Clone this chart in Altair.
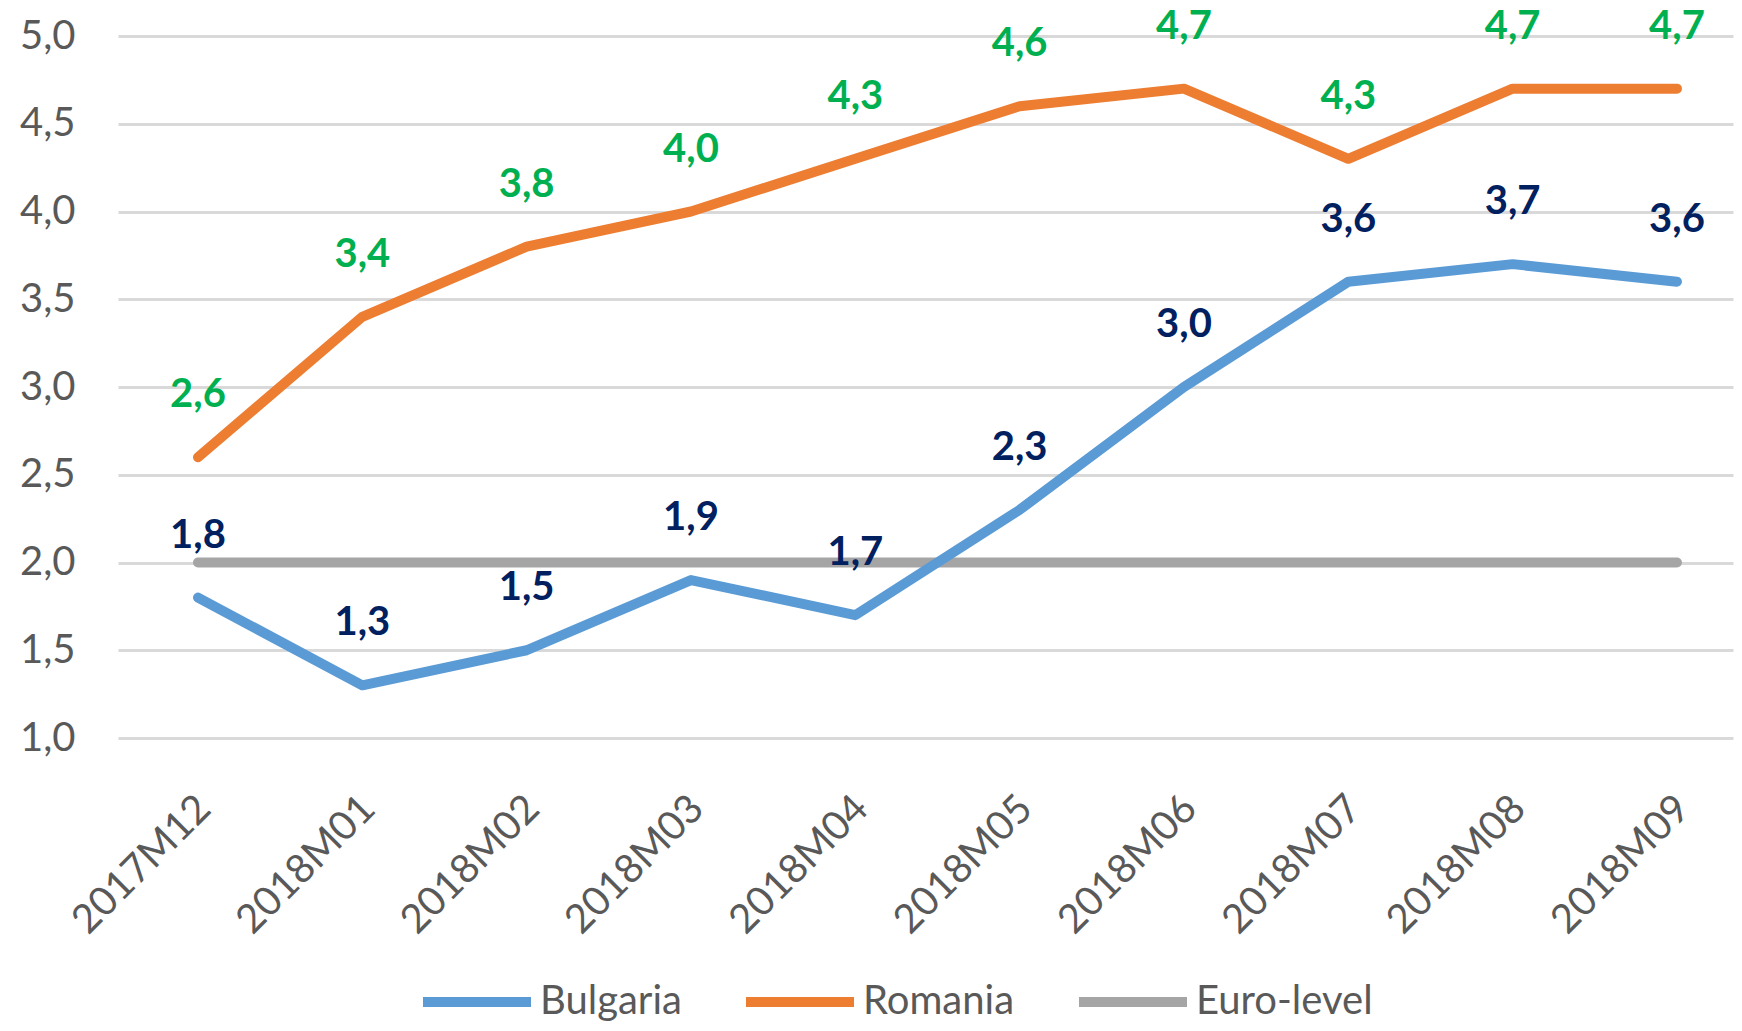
import altair as alt
import pandas as pd

months = ["2017M12", "2018M01", "2018M02", "2018M03", "2018M04",
          "2018M05", "2018M06", "2018M07", "2018M08", "2018M09"]
bulgaria = [1.8, 1.3, 1.5, 1.9, 1.7, 2.3, 3.0, 3.6, 3.7, 3.6]
romania = [2.6, 3.4, 3.8, 4.0, 4.3, 4.6, 4.7, 4.3, 4.7, 4.7]
euro_level = [2.0] * 10
series_names = ["Bulgaria", "Romania", "Euro-level"]
series_colors = ["#5B9BD5", "#ED7D31", "#A5A5A5"]
label_colors = {"Bulgaria": "#002060", "Romania": "#00B050"}
y_ticks = [1.0, 1.5, 2.0, 2.5, 3.0, 3.5, 4.0, 4.5, 5.0]

rows = []
for name, vals in [("Euro-level", euro_level), ("Bulgaria", bulgaria), ("Romania", romania)]:
    for i, (m, v) in enumerate(zip(months, vals)):
        rows.append({"idx": i, "month": m, "series": name, "value": v,
                     "lcolor": label_colors.get(name, "#000000")})
df = pd.DataFrame(rows)

FONT = "Lato"
month_array = "[" + ",".join("'" + m + "'" for m in months) + "]"

x_enc = alt.X("idx:Q",
              scale=alt.Scale(domain=[-0.4868, 9.341], nice=False, zero=False),
              axis=alt.Axis(title=None, values=list(range(len(months))),
                            labelExpr=month_array + "[datum.value]",
                            labelAngle=-45, labelAlign="right",
                            labelBaseline="middle", labelPadding=64, labelOffset=6,
                            labelFontSize=40, labelColor="#595959", labelFont=FONT,
                            labelFlush=False, labelOverlap=False,
                            ticks=False, domain=False, grid=False))
y_enc = alt.Y("value:Q", scale=alt.Scale(domain=[1, 5], nice=False, zero=False),
              axis=alt.Axis(title=None, values=y_ticks,
                            labelExpr="replace(format(datum.value, '.1f'), '.', ',')",
                            labelFontSize=40, labelColor="#595959", labelFont=FONT,
                            labelPadding=43, ticks=False, domain=False,
                            grid=True, gridColor="#D9D9D9", gridWidth=3))

lines = alt.Chart(df).mark_line(strokeWidth=10, strokeCap="round", strokeJoin="round").encode(
    x=x_enc, y=y_enc,
    color=alt.Color("series:N",
                    scale=alt.Scale(domain=series_names, range=series_colors),
                    legend=alt.Legend(title=None, orient="none", direction="horizontal",
                                      legendX=300, legendY=907,
                                      symbolType="stroke", symbolStrokeWidth=10,
                                      symbolSize=11664, labelFontSize=40,
                                      labelFont=FONT, labelColor="#595959",
                                      labelOffset=4, columnPadding=44,
                                      labelLimit=400)),
    detail="series:N",
)

labels = alt.Chart(df).transform_filter(
    "datum.series != 'Euro-level'"
).transform_calculate(
    txt="replace(format(datum.value, '.1f'), '.', ',')"
).mark_text(dy=-62, fontSize=40, fontWeight="bold", font=FONT, baseline="middle").encode(
    x=alt.X("idx:Q"),
    y=alt.Y("value:Q"),
    text="txt:N",
    color=alt.Color("lcolor:N", scale=None),
)

chart = alt.layer(lines, labels).properties(
    width=1615, height=702,
    autosize=alt.AutoSizeParams(type="none"),
    padding={"left": 110, "top": 28, "right": 1, "bottom": 285},
    background="white",
).configure_view(stroke=None)

chart.save("out.html", embed_options={"renderer": "svg", "actions": False})
